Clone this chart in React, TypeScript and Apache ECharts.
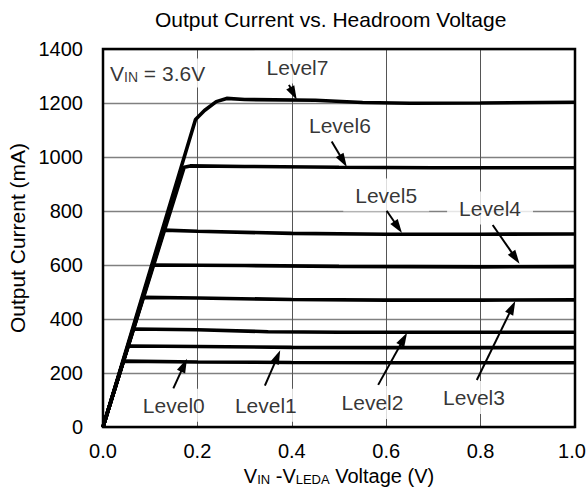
import React, { useEffect, useRef } from "react";
import * as echarts from "echarts";

const TITLE = "Output Current vs. Headroom Voltage";
const Y_NAME = "Output Current (mA)";
const X_NAME = "V{s|IN} -V{s|LEDA} Voltage (V)";
const VIN_NOTE = "V{s|IN} = 3.6V";

const LEVEL_NAMES = ["Level0", "Level1", "Level2", "Level3", "Level4", "Level5", "Level6", "Level7"];

const LEVEL0 = [[0, 0], [0.043, 244], [0.2, 241], [0.4, 239], [0.6, 238], [0.8, 238], [1.0, 238]];
const LEVEL1 = [[0, 0], [0.053, 300], [0.2, 298], [0.4, 295], [0.6, 294], [0.8, 294], [1.0, 294]];
const LEVEL2 = [[0, 0], [0.064, 363], [0.2, 360], [0.35, 353], [0.5, 351], [0.8, 351], [1.0, 351]];
const LEVEL3 = [[0, 0], [0.085, 480], [0.2, 478], [0.4, 472], [0.6, 470], [0.8, 470], [1.0, 471]];
const LEVEL4 = [[0, 0], [0.105, 600], [0.3, 598], [0.5, 595], [0.8, 593], [1.0, 594]];
const LEVEL5 = [[0, 0], [0.129, 729], [0.2, 725], [0.4, 717], [0.6, 714], [0.8, 714], [1.0, 715]];
const LEVEL6 = [[0, 0], [0.172, 962], [0.185, 967], [0.3, 965], [0.5, 962], [0.7, 960], [1.0, 960]];
const LEVEL7 = [[0, 0], [0.196, 1139], [0.215, 1172], [0.24, 1205], [0.262, 1217], [0.3, 1213], [0.45, 1210], [0.55, 1202], [0.65, 1199], [0.8, 1200], [1.0, 1203]];
const LEVELS = [LEVEL0, LEVEL1, LEVEL2, LEVEL3, LEVEL4, LEVEL5, LEVEL6, LEVEL7];

// annotation label centres (data coordinates), per level
const LABEL_X = [0.15, 0.345, 0.571, 0.786, 0.82, 0.6, 0.502, 0.412];
const LABEL_Y = [81, 81, 91, 109, 811, 859, 1117, 1333];
// arrow start and end (data coordinates), per level
const ARROW_FROM = [[0.149, 143], [0.343, 153], [0.583, 156], [0.792, 174], [0.8256, 748], [0.601, 801], [0.4845, 1057], [0.394, 1267]];
const ARROW_TO = [[0.1716, 229], [0.3695, 260], [0.637, 326], [0.867, 443], [0.874, 626], [0.625, 740], [0.509, 985], [0.4036, 1235]];

const VIN_POS = [0.0064, 1311];

const X_MIN = 0, X_MAX = 1.0, X_STEP = 0.2;
const Y_MIN = 0, Y_MAX = 1400, Y_STEP = 200;

const FONT = "'Liberation Sans', Arial, sans-serif";

export default function App() {
  const ref = useRef<HTMLDivElement>(null);
  useEffect(() => {
    if (!ref.current) return;
    const chart = echarts.init(ref.current, null, { renderer: "svg" });
    const sub = { fontSize: 13, verticalAlign: "bottom", lineHeight: 10, fontFamily: FONT, color: "#000" };
    const lineSeries = LEVELS.map((d, i) => ({
      type: "line",
      name: LEVEL_NAMES[i],
      data: d,
      showSymbol: false,
      symbol: "none",
      silent: true,
      lineStyle: { color: "#000", width: 3.6 },
      z: 3,
    }));
    const option: any = {
      animation: false,
      backgroundColor: "#fff",
      textStyle: { fontFamily: FONT },
      title: {
        text: TITLE,
        left: 155,
        top: 9,
        padding: 0,
        textStyle: { fontFamily: FONT, fontSize: 21, fontWeight: "normal", color: "#000" },
      },
      grid: {
        left: 103,
        right: 12,
        top: 49,
        bottom: 73,
        containLabel: false,
        outerBoundsMode: "none",
        show: true,
        borderColor: "#000",
        borderWidth: 2.5,
        backgroundColor: "transparent",
        z: 5,
      },
      xAxis: {
        type: "value",
        min: X_MIN,
        max: X_MAX,
        interval: X_STEP,
        name: X_NAME,
        nameLocation: "middle",
        nameGap: 39,
        nameTextStyle: {
          fontFamily: FONT,
          fontSize: 20,
          color: "#000",
          verticalAlign: "top",
          rich: { s: sub },
        },
        axisLine: { show: false },
        axisTick: { show: false },
        axisLabel: {
          fontFamily: FONT,
          fontSize: 20,
          color: "#000",
          margin: 14,
          formatter: (v: number) => (v >= X_MAX ? "{m|" + v.toFixed(1) + "}" : v.toFixed(1)),
          rich: { m: { fontFamily: FONT, fontSize: 20, color: "#000", padding: [0, 6, 0, 0] } },
        },
        splitLine: { show: true, lineStyle: { color: "#555", width: 1 } },
      },
      yAxis: {
        type: "value",
        min: Y_MIN,
        max: Y_MAX,
        interval: Y_STEP,
        name: Y_NAME,
        nameLocation: "middle",
        nameGap: 75,
        nameTextStyle: { fontFamily: FONT, fontSize: 21, color: "#000" },
        axisLine: { show: false },
        axisTick: { show: false },
        axisLabel: {
          fontFamily: FONT,
          fontSize: 20,
          color: "#000",
          margin: 20,
          formatter: (v: number) => String(v),
        },
        splitLine: { show: true, lineStyle: { color: "#808080", width: 1.3 } },
      },
      series: [
        ...lineSeries,
        {
          type: "scatter",
          name: "labels",
          symbolSize: 0,
          silent: true,
          z: 4,
          data: LEVEL_NAMES.map((n, i) => ({ name: n, value: [LABEL_X[i], LABEL_Y[i]] })),
          label: {
            show: true,
            position: "inside",
            formatter: "{b}",
            fontFamily: FONT,
            fontSize: 21,
            color: "#000",
            backgroundColor: "#fff",
            padding: [6, 12],
          },
          markLine: {
            silent: true,
            animation: false,
            symbol: ["none", "triangle"],
            symbolSize: [8, 13],
            label: { show: false },
            lineStyle: { color: "#000", width: 2, type: "solid" },
            data: ARROW_FROM.map((f, i) => [
              { coord: f, symbol: "none" },
              { coord: ARROW_TO[i], symbol: "triangle", symbolSize: [9, 14] },
            ]),
          },
        },
        {
          type: "scatter",
          name: "note",
          symbolSize: 0,
          silent: true,
          z: 4,
          data: [{ name: "vin", value: VIN_POS }],
          label: {
            show: true,
            position: "right",
            distance: 0,
            formatter: VIN_NOTE,
            fontFamily: FONT,
            fontSize: 21,
            color: "#000",
            backgroundColor: "#fff",
            padding: [4, 4],
            rich: { s: { ...sub, fontSize: 14 } },
          },
        },
      ],
    };
    chart.setOption(option);
    return () => chart.dispose();
  }, []);
  return (
    <div
      ref={ref}
      style={{ position: "absolute", left: 0, top: 0, width: 587, height: 500 }}
    />
  );
}
